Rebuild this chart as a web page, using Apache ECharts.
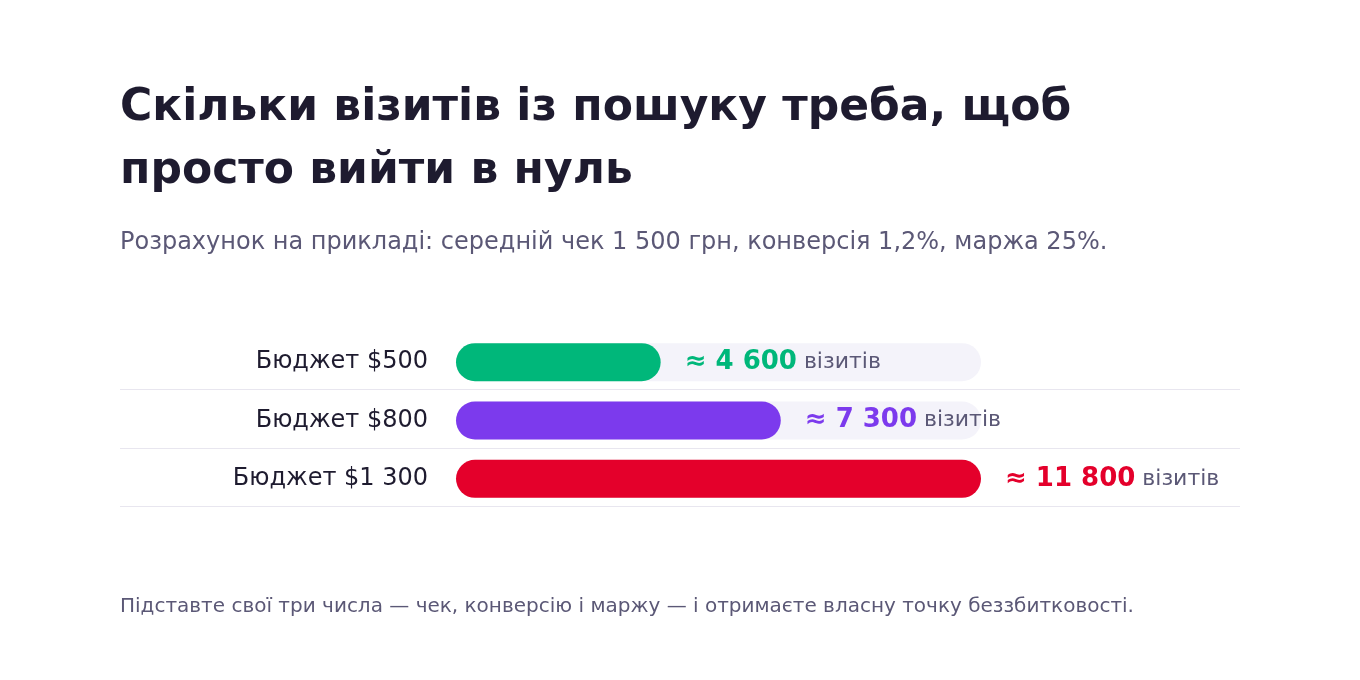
<!DOCTYPE html>
<html><head><meta charset="utf-8">
<script src="https://cdn.jsdelivr.net/npm/echarts@6/dist/echarts.min.js"></script>
<style>html,body{margin:0;padding:0;background:#fff}#c{width:1360px;height:680px}</style>
</head><body><div id="c"></div>
<script>
const titleText = 'Скільки візитів із пошуку треба, щоб\nпросто вийти в нуль';
const subtitleText = 'Розрахунок на прикладі: середній чек 1 500 грн, конверсія 1,2%, маржа 25%.';
const footnoteText = 'Підставте свої три числа — чек, конверсію і маржу — і отримаєте власну точку беззбитковості.';
const categories = ['Бюджет $500', 'Бюджет $800', 'Бюджет $1 300'];
const visits = [4600, 7300, 11800];
const unitText = 'візитів';
const barColors = ['#00b77a', '#7c3aed', '#e4002b'];

const FONT = 'DejaVu Sans';
const fmt = v => String(v).replace(/\B(?=(\d{3})+(?!\d))/g, ' ');

const chart = echarts.init(document.getElementById('c'), null, {renderer: 'canvas'});
chart.setOption({
  backgroundColor: '#ffffff',
  animation: false,
  textStyle: {fontFamily: FONT},
  title: [
    {text: titleText, left: 115, top: 72,
     textStyle: {fontFamily: FONT, fontSize: 44, fontWeight: 'bold', color: '#1e1b2f', lineHeight: 63}},
    {text: subtitleText, left: 115, top: 226,
     textStyle: {fontFamily: FONT, fontSize: 24, fontWeight: 'normal', color: '#5b5876'}},
    {text: footnoteText, left: 115, top: 592,
     textStyle: {fontFamily: FONT, fontSize: 20, fontWeight: 'normal', color: '#5b5876'}}
  ],
  grid: [
    {left: 456, right: 379, top: 333, height: 175, containLabel: false},
    {left: 120, right: 120, top: 333, height: 175, containLabel: false}
  ],
  xAxis: [
    {gridIndex: 0, type: 'value', min: 0, max: Math.max(...visits), show: false},
    {gridIndex: 1, type: 'value', min: 0, max: 1, show: false}
  ],
  yAxis: [
    {gridIndex: 0, type: 'category', data: categories, inverse: true,
     axisLine: {show: false}, axisTick: {show: false}, splitLine: {show: false},
     axisLabel: {margin: 28, fontFamily: FONT, fontSize: 24, color: '#1e1b2f'}},
    {gridIndex: 1, type: 'category', data: categories, inverse: true, show: false}
  ],
  series: [
    {
      type: 'custom', xAxisIndex: 1, yAxisIndex: 1, silent: true, z: 1,
      data: categories.map((c, i) => [0, i]),
      renderItem: function (params, api) {
        const y = api.coord([0, api.value(1)])[1];
        const h = api.size([0, 1])[1];
        const cs = params.coordSys;
        const ly = Math.round(y + h / 2) - 1.5;
        return {type: 'line', shape: {x1: cs.x, y1: ly, x2: cs.x + cs.width, y2: ly},
                style: {stroke: '#e8e6ef', lineWidth: 1}};
      }
    },
    {
      type: 'bar', xAxisIndex: 0, yAxisIndex: 0, barWidth: 38, z: 3,
      showBackground: true,
      backgroundStyle: {color: '#f4f3fa', borderRadius: 19},
      data: visits.map((v, i) => ({value: v, itemStyle: {color: barColors[i]},
        label: {rich: {v: {color: barColors[i]}}}})),
      itemStyle: {borderRadius: 19},
      label: {
        show: true, position: 'right', distance: 24,
        formatter: p => '{v|≈ ' + fmt(p.value) + '}{u| ' + unitText + '}',
        rich: {
          v: {fontFamily: FONT, fontSize: 26, fontWeight: 'bold'},
          u: {fontFamily: FONT, fontSize: 22, color: '#5b5876'}
        }
      }
    }
  ]
});
</script></body></html>
